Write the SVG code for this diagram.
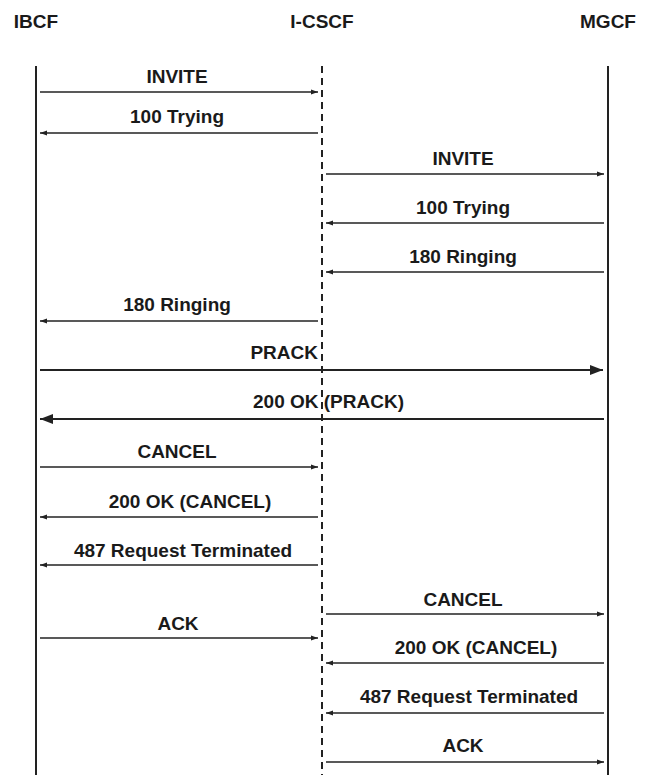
<svg xmlns="http://www.w3.org/2000/svg" width="646" height="775" viewBox="0 0 646 775">
<style>
.hdr{font-family:"Liberation Sans",Arial,sans-serif;font-weight:bold;font-size:19px;fill:#1a1a1a;text-anchor:middle}
.lbl{font-family:"Liberation Sans",Arial,sans-serif;font-weight:bold;font-size:19px;fill:#1a1a1a;text-anchor:middle}
.life{stroke:#222;stroke-width:2;fill:none}
.dash{stroke:#222;stroke-width:2;fill:none;stroke-dasharray:7 5}
.msg{stroke:#222;stroke-width:1.3;fill:none;marker-end:url(#ah)}
.big{stroke:#222;stroke-width:2;fill:none;marker-end:url(#bh)}
</style>
<defs>
<marker id="ah" markerUnits="userSpaceOnUse" markerWidth="8" markerHeight="6" refX="7" refY="3" orient="auto">
<path d="M0,0.4 L7,3 L0,5.6 Z" fill="#222"/>
</marker>
<marker id="bh" markerUnits="userSpaceOnUse" markerWidth="14" markerHeight="11" refX="13" refY="5.5" orient="auto">
<path d="M0,0.5 L13,5.5 L0,10.5 Z" fill="#222"/>
</marker>
</defs>
<rect width="646" height="775" fill="#fff"/>
<g id="IBCF">
<text class="hdr" x="36" y="28">IBCF</text>
<line class="life" x1="36" y1="66" x2="36" y2="775"/>
</g>
<g id="I-CSCF">
<text class="hdr" x="322" y="28">I-CSCF</text>
<line class="dash" x1="322" y1="66" x2="322" y2="775"/>
</g>
<g id="MGCF">
<text class="hdr" x="608" y="28">MGCF</text>
<line class="life" x1="608" y1="66" x2="608" y2="775"/>
</g>
<g id="connectors">
<line class="msg" x1="40" y1="92" x2="318" y2="92"/>
<text class="lbl" x="177" y="83">INVITE</text>
<line class="msg" x1="318" y1="133" x2="40" y2="133"/>
<text class="lbl" x="177" y="123">100 Trying</text>
<line class="msg" x1="326" y1="174" x2="604" y2="174"/>
<text class="lbl" x="463" y="165">INVITE</text>
<line class="msg" x1="604" y1="223" x2="326" y2="223"/>
<text class="lbl" x="463" y="214">100 Trying</text>
<line class="msg" x1="604" y1="272" x2="326" y2="272"/>
<text class="lbl" x="463" y="263">180 Ringing</text>
<line class="msg" x1="318" y1="321" x2="40" y2="321"/>
<text class="lbl" x="177" y="311">180 Ringing</text>
<line class="big" x1="40" y1="370" x2="603" y2="370"/>
<text class="lbl" x="318" y="359" style="text-anchor:end">PRACK</text>
<line class="big" x1="604" y1="419" x2="40" y2="419"/>
<text class="lbl" x="253" y="408" style="text-anchor:start">200 OK (PRACK)</text>
<line class="msg" x1="40" y1="467" x2="318" y2="467"/>
<text class="lbl" x="177" y="458">CANCEL</text>
<line class="msg" x1="318" y1="517" x2="40" y2="517"/>
<text class="lbl" x="190" y="508">200 OK (CANCEL)</text>
<line class="msg" x1="318" y1="565" x2="40" y2="565"/>
<text class="lbl" x="183" y="557">487 Request Terminated</text>
<line class="msg" x1="326" y1="614" x2="604" y2="614"/>
<text class="lbl" x="463" y="606">CANCEL</text>
<line class="msg" x1="40" y1="638" x2="318" y2="638"/>
<text class="lbl" x="178" y="630">ACK</text>
<line class="msg" x1="604" y1="663" x2="326" y2="663"/>
<text class="lbl" x="476" y="654">200 OK (CANCEL)</text>
<line class="msg" x1="604" y1="713" x2="326" y2="713"/>
<text class="lbl" x="469" y="703">487 Request Terminated</text>
<line class="msg" x1="326" y1="762" x2="604" y2="762"/>
<text class="lbl" x="463" y="752">ACK</text>
</g>
</svg>
